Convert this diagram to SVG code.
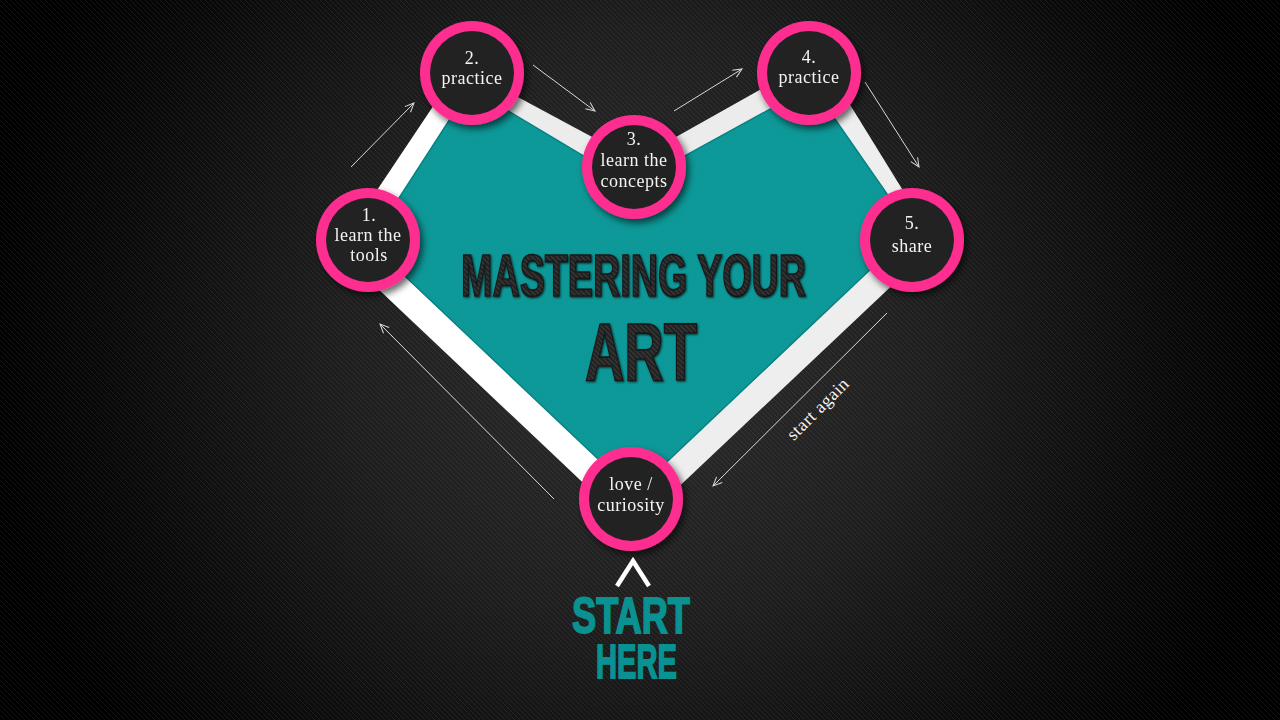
<svg xmlns="http://www.w3.org/2000/svg" width="1280" height="720" viewBox="0 0 1280 720">
  <defs>
    <radialGradient id="bg" gradientUnits="userSpaceOnUse" cx="640" cy="330" r="660">
      <stop offset="0" stop-color="#2e2e2e"/>
      <stop offset="0.45" stop-color="#1e1e1e"/>
      <stop offset="0.8" stop-color="#0a0a0a"/>
      <stop offset="1" stop-color="#000"/>
    </radialGradient>
    <pattern id="stripes" width="5" height="5" patternUnits="userSpaceOnUse">
      <path d="M0,0 L5,5 M-1,4 L1,6 M4,-1 L6,1" stroke="#ffffff" stroke-opacity="0.07" stroke-width="1"/>
    </pattern>
    <pattern id="tealTex" width="3" height="3" patternUnits="userSpaceOnUse">
      <path d="M0,0 L3,3" stroke="#000" stroke-opacity="0.06" stroke-width="1"/>
    </pattern>
    <pattern id="txtTex" width="5" height="5" patternUnits="userSpaceOnUse">
      <rect width="5" height="5" fill="#222222"/>
      <path d="M0,0 L5,5 M-1,4 L1,6 M4,-1 L6,1" stroke="#3a3a3a" stroke-width="1.2"/>
    </pattern>
    <filter id="shadow" x="-30%" y="-30%" width="160%" height="160%">
      <feDropShadow dx="3" dy="4" stdDeviation="3.5" flood-color="#000" flood-opacity="0.6"/>
    </filter>
    <filter id="txtShadow" x="-10%" y="-10%" width="120%" height="130%">
      <feDropShadow dx="1" dy="1" stdDeviation="0.8" flood-color="#000" flood-opacity="0.7"/>
    </filter>
    <marker id="head" markerWidth="12" markerHeight="12" refX="10" refY="5" orient="auto" markerUnits="userSpaceOnUse">
      <path d="M1,1 L10,5 L1,9" fill="none" stroke="#d8d8d8" stroke-width="1"/>
    </marker>
    <style>
      .ring { fill: #fd2f8f; }
      .core { fill: #232323; }
      .lbl { font-family: "Liberation Serif", "DejaVu Serif", serif; font-size: 18px; letter-spacing: 0.5px; fill: #f3f3f3; text-anchor: middle; }
      .arrow { fill: none; stroke: #d8d8d8; stroke-width: 1; marker-end: url(#head); }
      .title { font-family: "Liberation Sans", Arial, sans-serif; font-weight: bold; fill: url(#txtTex); stroke: #181818; stroke-width: 1.6; }
      .start { font-family: "Liberation Sans", Arial, sans-serif; font-weight: bold; fill: #0a9191; stroke: #0a9191; stroke-width: 1.8; }
    </style>
  </defs>

  <!-- background -->
  <rect width="1280" height="720" fill="url(#bg)"/>
  <rect width="1280" height="720" fill="url(#stripes)"/>

  <!-- heart band and fill -->
  <g id="heart">
    <polygon points="337,250 460,66 470,88 370,243" fill="#ffffff"/>
    <polygon points="460,66 635,160 632,185 470,88" fill="#ececec"/>
    <polygon points="635,160 820,56 812,86 632,185" fill="#ececec"/>
    <polygon points="820,56 936,244 912,230 812,86" fill="#eeeeee"/>
    <polygon points="936,244 633,530 634,493 912,230" fill="#eeeeee"/>
    <polygon points="633,530 337,250 370,243 634,493" fill="#ffffff"/>
    <polygon points="370,243 470,88 632,185 812,86 912,230 634,493" fill="#0e9b9b" stroke="#0a8484" stroke-width="1.5"/>
    <polygon points="370,243 470,88 632,185 812,86 912,230 634,493" fill="url(#tealTex)"/>
  </g>

  <!-- title -->
  <g id="title" filter="url(#txtShadow)">
    <text class="title" x="461" y="296" font-size="60" textLength="345" lengthAdjust="spacingAndGlyphs">MASTERING YOUR</text>
    <text class="title" x="585" y="380" font-size="81" textLength="112" lengthAdjust="spacingAndGlyphs">ART</text>
  </g>

  <!-- connectors -->
  <g id="connectors">
    <line class="arrow" x1="351" y1="167" x2="414" y2="103"/>
    <line class="arrow" x1="533" y1="65" x2="595" y2="111"/>
    <line class="arrow" x1="674" y1="111" x2="742" y2="69"/>
    <line class="arrow" x1="865" y1="82" x2="919" y2="167"/>
    <line class="arrow" x1="887" y1="313" x2="713" y2="486"/>
    <line class="arrow" x1="554" y1="499" x2="380" y2="324"/>
    <text class="lbl" x="0" y="0" transform="translate(822,413) rotate(-45)" font-size="21">start again</text>
  </g>

  <!-- nodes -->
  <g id="node-1" filter="url(#shadow)">
    <circle class="ring" cx="368" cy="240" r="52"/>
    <circle class="core" cx="368" cy="240" r="42"/>
    <text class="lbl" x="369" y="221">1.</text>
    <text class="lbl" x="368" y="241">learn the</text>
    <text class="lbl" x="369" y="261">tools</text>
  </g>
  <g id="node-2" filter="url(#shadow)">
    <circle class="ring" cx="472" cy="73" r="52"/>
    <circle class="core" cx="472" cy="73" r="42"/>
    <text class="lbl" x="472" y="64">2.</text>
    <text class="lbl" x="472" y="84">practice</text>
  </g>
  <g id="node-3" filter="url(#shadow)">
    <circle class="ring" cx="634" cy="167" r="52"/>
    <circle class="core" cx="634" cy="167" r="42"/>
    <text class="lbl" x="634" y="145">3.</text>
    <text class="lbl" x="634" y="166">learn the</text>
    <text class="lbl" x="634" y="187">concepts</text>
  </g>
  <g id="node-4" filter="url(#shadow)">
    <circle class="ring" cx="809" cy="73" r="52"/>
    <circle class="core" cx="809" cy="73" r="42"/>
    <text class="lbl" x="809" y="63">4.</text>
    <text class="lbl" x="809" y="83">practice</text>
  </g>
  <g id="node-5" filter="url(#shadow)">
    <circle class="ring" cx="912" cy="240" r="52"/>
    <circle class="core" cx="912" cy="240" r="42"/>
    <text class="lbl" x="912" y="229">5.</text>
    <text class="lbl" x="912" y="252">share</text>
  </g>
  <g id="node-love" filter="url(#shadow)">
    <circle class="ring" cx="631" cy="499" r="52"/>
    <circle class="core" cx="631" cy="499" r="42"/>
    <text class="lbl" x="631" y="490">love /</text>
    <text class="lbl" x="631" y="511">curiosity</text>
  </g>

  <!-- start here -->
  <g id="start-here">
    <polyline points="617,586 633,561 649,586" fill="none" stroke="#ffffff" stroke-width="4.5" stroke-linejoin="miter"/>
    <text class="start" x="572" y="633" font-size="50" textLength="118" lengthAdjust="spacingAndGlyphs">START</text>
    <text class="start" x="596" y="678" font-size="49" textLength="81" lengthAdjust="spacingAndGlyphs">HERE</text>
  </g>
</svg>
